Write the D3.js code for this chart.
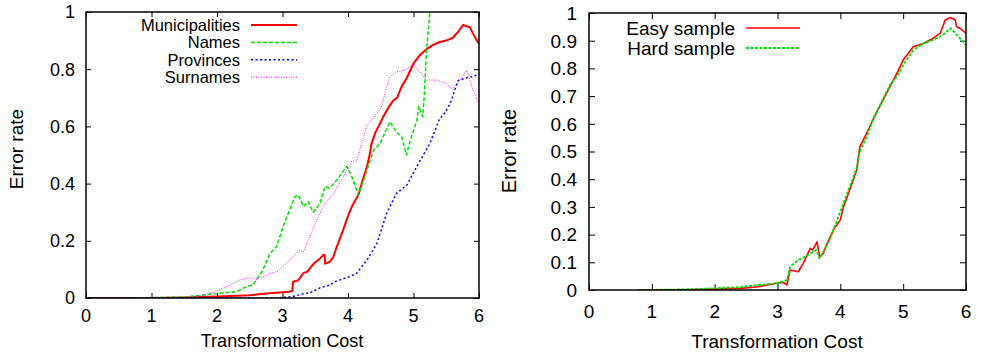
<!DOCTYPE html>
<html>
<head>
<meta charset="utf-8">
<script src="https://cdn.jsdelivr.net/npm/d3@7"></script>
<style>
  body { margin: 0; background: #fff; }
  svg { display: block; font-family: "Liberation Sans", Arial, sans-serif; }
</style>
</head>
<body>
<svg id="chart" width="982" height="354"></svg>
<script>
// ---- data: [transformation cost, error rate] ----
const municipalities = [[0,0],[1.0,0],[1.5,0.002],[2.0,0.005],[2.5,0.01],[2.8,0.017],[3.0,0.02],[3.1,0.022],[3.15,0.025],[3.16,0.056],[3.24,0.062],[3.32,0.087],[3.38,0.092],[3.44,0.11],[3.5,0.125],[3.56,0.135],[3.62,0.15],[3.645,0.15],[3.65,0.12],[3.72,0.126],[3.77,0.14],[3.83,0.18],[3.88,0.21],[3.93,0.24],[3.99,0.28],[4.06,0.32],[4.12,0.345],[4.16,0.36],[4.22,0.41],[4.29,0.46],[4.33,0.5],[4.36,0.54],[4.42,0.58],[4.49,0.61],[4.53,0.63],[4.57,0.647],[4.63,0.67],[4.69,0.69],[4.75,0.70],[4.82,0.74],[4.9,0.77],[5.0,0.82],[5.1,0.85],[5.2,0.87],[5.3,0.885],[5.4,0.895],[5.5,0.9],[5.6,0.91],[5.68,0.93],[5.76,0.955],[5.81,0.95],[5.86,0.947],[5.92,0.92],[5.98,0.895],[6.0,0.89]];
const names = [[0.67,0],[1.5,0.003],[2.0,0.016],[2.3,0.022],[2.45,0.04],[2.55,0.045],[2.7,0.098],[2.81,0.156],[2.91,0.18],[3.01,0.25],[3.06,0.28],[3.19,0.354],[3.24,0.36],[3.32,0.32],[3.39,0.337],[3.47,0.30],[3.57,0.33],[3.65,0.39],[3.72,0.384],[3.83,0.413],[3.98,0.46],[4.06,0.424],[4.16,0.36],[4.29,0.448],[4.39,0.517],[4.49,0.54],[4.56,0.576],[4.64,0.616],[4.74,0.58],[4.82,0.564],[4.89,0.50],[4.95,0.55],[5.05,0.62],[5.08,0.67],[5.14,0.634],[5.16,0.69],[5.2,0.867],[5.25,1.0],[5.28,1.12]];
const provinces = [[0,0],[2.91,0],[3.16,0.005],[3.32,0.015],[3.42,0.018],[3.57,0.035],[3.72,0.045],[3.83,0.06],[4.03,0.075],[4.13,0.086],[4.29,0.133],[4.44,0.19],[4.59,0.296],[4.74,0.366],[4.9,0.395],[5.05,0.46],[5.25,0.54],[5.4,0.628],[5.46,0.64],[5.56,0.68],[5.68,0.76],[5.81,0.77],[5.91,0.774],[5.99,0.783],[6.0,0.785]];
const surnames = [[0.75,0],[1.44,0],[1.74,0.007],[1.94,0.019],[2.15,0.04],[2.35,0.063],[2.5,0.072],[2.6,0.065],[2.73,0.075],[2.81,0.086],[2.91,0.092],[2.96,0.098],[3.11,0.133],[3.27,0.168],[3.32,0.162],[3.47,0.244],[3.62,0.32],[3.78,0.366],[3.93,0.424],[4.06,0.48],[4.13,0.477],[4.29,0.605],[4.44,0.646],[4.5,0.66],[4.57,0.72],[4.64,0.774],[4.74,0.79],[4.9,0.80],[5.0,0.82],[5.1,0.79],[5.2,0.762],[5.35,0.762],[5.5,0.75],[5.6,0.727],[5.71,0.762],[5.81,0.797],[5.89,0.74],[5.99,0.68]];

const easySample = [[0.75,0],[1.5,0.001],[2.0,0.003],[2.4,0.006],[2.7,0.012],[3.0,0.025],[3.1,0.027],[3.15,0.018],[3.2,0.072],[3.33,0.066],[3.41,0.096],[3.52,0.15],[3.56,0.144],[3.63,0.174],[3.67,0.12],[3.73,0.132],[3.78,0.162],[3.89,0.217],[4.0,0.253],[4.05,0.30],[4.15,0.361],[4.26,0.433],[4.31,0.517],[4.42,0.566],[4.53,0.62],[4.68,0.686],[4.79,0.734],[4.9,0.782],[5.0,0.83],[5.16,0.878],[5.32,0.89],[5.48,0.909],[5.59,0.927],[5.67,0.975],[5.75,0.984],[5.83,0.975],[5.85,0.95],[5.9,0.945],[6.0,0.927]];
const hardSample = [[0.76,0],[1.5,0.002],[1.97,0.006],[2.4,0.01],[2.67,0.018],[2.99,0.024],[3.15,0.036],[3.2,0.084],[3.33,0.108],[3.46,0.123],[3.62,0.144],[3.67,0.114],[3.73,0.138],[3.84,0.187],[3.94,0.247],[4.05,0.313],[4.15,0.373],[4.26,0.439],[4.31,0.5],[4.42,0.553],[4.53,0.62],[4.68,0.69],[4.79,0.74],[4.9,0.77],[5.0,0.812],[5.16,0.866],[5.32,0.89],[5.48,0.903],[5.59,0.915],[5.67,0.927],[5.75,0.945],[5.83,0.927],[5.9,0.909],[6.0,0.885]];

const xTicks = [0, 1, 2, 3, 4, 5, 6];
const leftYTicks = [0, 0.2, 0.4, 0.6, 0.8, 1];
const rightYTicks = [0, 0.1, 0.2, 0.3, 0.4, 0.5, 0.6, 0.7, 0.8, 0.9, 1];
const leftNames = ["Municipalities", "Names", "Provinces", "Surnames"];
const rightNames = ["Easy sample", "Hard sample"];

const svg = d3.select("#chart");

// draws one gnuplot-style panel
function drawPanel(p) {
  var x = d3.scaleLinear().domain([0, 6]).range([p.left, p.right]);
  var y = d3.scaleLinear().domain([0, 1]).range([p.bottom, p.top]);
  var g = svg.append("g");

  g.append("clipPath").attr("id", p.id + "-clip")
    .append("rect")
      .attr("x", p.left).attr("y", p.top)
      .attr("width", p.right - p.left).attr("height", p.bottom - p.top);

  // inward ticks, mirrored on the opposite side
  g.append("g").attr("transform", "translate(0," + p.bottom + ")")
    .call(d3.axisTop(x).tickValues(xTicks).tickSize(p.tick).tickFormat(""));
  g.append("g").attr("transform", "translate(0," + p.top + ")")
    .call(d3.axisBottom(x).tickValues(xTicks).tickSize(p.tick).tickFormat(""));
  g.append("g").attr("transform", "translate(" + p.left + ",0)")
    .call(d3.axisRight(y).tickValues(p.yTicks).tickSize(p.tick).tickFormat(""));
  g.append("g").attr("transform", "translate(" + p.right + ",0)")
    .call(d3.axisLeft(y).tickValues(p.yTicks).tickSize(p.tick).tickFormat(""));
  g.selectAll(".domain").remove();
  g.selectAll(".tick line").attr("stroke", "#000").attr("stroke-width", 1);

  g.selectAll(".xlab").data(xTicks).enter().append("text")
    .attr("x", d => x(d)).attr("y", p.xLabelY)
    .attr("text-anchor", "middle").attr("font-size", p.tickFont)
    .text(d => d);
  g.selectAll(".ylab").data(p.yTicks).enter().append("text")
    .attr("x", p.yLabelX).attr("y", d => y(d)).attr("dy", "0.36em")
    .attr("text-anchor", "end").attr("font-size", p.tickFont)
    .text(d => d);

  g.append("text").attr("x", p.titleX).attr("y", p.titleY)
    .attr("text-anchor", "middle").attr("font-size", p.titleFont)
    .text("Transformation Cost");
  g.append("text")
    .attr("transform", "translate(" + p.yTitleX + "," + p.yTitleY + ") rotate(-90)")
    .attr("text-anchor", "middle").attr("font-size", p.yTitleFont)
    .text("Error rate");

  var line = d3.line().x(d => x(d[0])).y(d => y(d[1]));
  var lines = g.append("g").attr("clip-path", "url(#" + p.id + "-clip)");
  p.series.forEach(function(s) {
    lines.append("path").datum(s.values)
      .attr("d", line)
      .attr("fill", "none")
      .attr("stroke", s.color)
      .attr("stroke-width", s.width)
      .attr("stroke-dasharray", s.dash)
      .attr("stroke-linejoin", "round");
  });

  // legend
  p.series.forEach(function(s, i) {
    var ly = p.legendY + i * p.legendStep;
    g.append("text").attr("x", p.legendX).attr("y", ly).attr("dy", "0.35em")
      .attr("text-anchor", "end").attr("font-size", p.legendFont)
      .text(s.name);
    g.append("line")
      .attr("x1", p.legendX + 11).attr("x2", p.legendX + 11 + p.legendLen)
      .attr("y1", ly).attr("y2", ly)
      .attr("stroke", s.color).attr("stroke-width", s.width)
      .attr("stroke-dasharray", s.dash);
  });

  g.append("rect")
    .attr("x", p.left).attr("y", p.top)
    .attr("width", p.right - p.left).attr("height", p.bottom - p.top)
    .attr("fill", "none").attr("stroke", "#000").attr("stroke-width", 1.5);
}

drawPanel({
  id: "left", left: 86, right: 479, top: 12, bottom: 298, tick: 5,
  yTicks: leftYTicks, tickFont: 18, titleFont: 18, yTitleFont: 19,
  xLabelY: 322, yLabelX: 75, titleX: 282, titleY: 347, yTitleX: 23, yTitleY: 149,
  legendX: 240, legendY: 25, legendStep: 17.4, legendLen: 46, legendFont: 16.5,
  series: [
    { name: leftNames[0], values: municipalities, color: "#ff0000", width: 2, dash: null },
    { name: leftNames[1], values: names, color: "#00e000", width: 1.5, dash: "4,2" },
    { name: leftNames[2], values: provinces, color: "#0000ff", width: 1.5, dash: "2,2.5" },
    { name: leftNames[3], values: surnames, color: "#ff00ff", width: 1, dash: "1,1.5" }
  ]
});

drawPanel({
  id: "right", left: 589, right: 966, top: 13, bottom: 290, tick: 6,
  yTicks: rightYTicks, tickFont: 19, titleFont: 19, yTitleFont: 20,
  xLabelY: 318, yLabelX: 577, titleX: 777, titleY: 348, yTitleX: 516, yTitleY: 151,
  legendX: 735, legendY: 28, legendStep: 20, legendLen: 54, legendFont: 19,
  series: [
    { name: rightNames[0], values: easySample, color: "#ff0000", width: 1.6, dash: null },
    { name: rightNames[1], values: hardSample, color: "#00e000", width: 1.8, dash: "3,1.5" }
  ]
});
</script>
</body>
</html>
